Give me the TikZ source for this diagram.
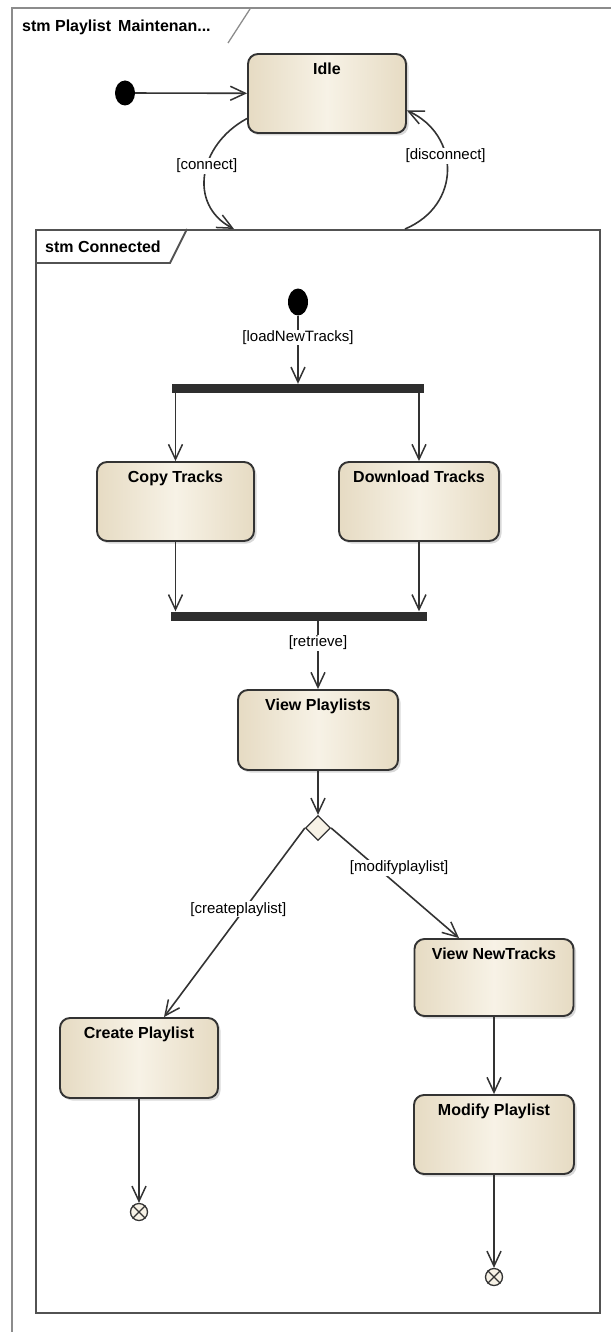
\documentclass[tikz,border=0pt]{standalone}
\usepackage{fontspec}
\setmainfont{Liberation Sans}
\usetikzlibrary{arrows.meta,shapes.geometric,shadows}
\definecolor{beigeL}{HTML}{F7F2E6}
\definecolor{beigeD}{HTML}{E6DBC3}
\definecolor{edgec}{HTML}{333333}
\definecolor{framegray}{HTML}{8C8C8C}
\definecolor{barc}{HTML}{2E2E2E}
\tikzset{
  stbox/.style={draw=edgec, line width=1.9pt, rounded corners=10pt,
    left color=beigeD, right color=beigeD, middle color=beigeL,
    minimum width=#1, minimum height=79pt, inner sep=0pt,
    drop shadow={shadow xshift=2.5pt, shadow yshift=-2.5pt, fill=black!30, opacity=.5}},
  stbox/.default=158pt,
  ttl/.style={anchor=north, yshift=-7pt, font=\fontsize{16}{18}\selectfont\bfseries, inner sep=3pt},
  lbl/.style={fill=white, inner sep=1pt, font=\fontsize{15}{17}\selectfont},
  arr/.style={draw=edgec, line width=1.6pt, -{Straight Barb[length=15pt,width=14pt,line width=1.5pt]}},
  initdot/.style={ellipse, fill=black, minimum width=20pt, minimum height=25pt, inner sep=0pt},
  barnode/.style={fill=barc, inner sep=0pt, minimum width=#1},
  finalnode/.style={circle, draw=edgec, line width=1.3pt, fill=beigeL, minimum size=17pt, inner sep=0pt},
  hdr/.style={font=\fontsize{16}{18}\selectfont\bfseries, anchor=west, inner sep=0pt}
}
\begin{document}
\begin{tikzpicture}[x=1pt,y=-1pt]
\useasboundingbox (0,0) rectangle (611,1332);
% outer frame
\draw[framegray, line width=1.8pt] (12,1332) -- (12,8) -- (611,8);
\node[hdr] (outerhdr) at (22,27) {stm Playlist\, Maintenan...};
\draw[framegray, line width=1.3pt] (250,9) -- (228,43);

% top level
\node[initdot] (init1) at (125,93) {};
\node[stbox, minimum width=158pt, label={[ttl]north:Idle}] (idle) at (327,93.5) {};
\draw[arr] (init1) -- (idle);

% connected frame
\node[draw=edgec!85, line width=2pt, minimum width=564pt, minimum height=1083pt, inner sep=0pt, anchor=north west] (conn) at (35,229) {};
\node[hdr] (connhdr) at (45,247) {stm Connected};
\draw[edgec!85, line width=1.8pt] (conn.north west |- 0,263) -- (170,263) -- (187,229);

% connect / disconnect
\draw[arr] ([yshift=-25pt]idle.west) .. controls (198,145) and (188,205) .. ([xshift=199pt]conn.north west)
  node[lbl, pos=.43] {[connect]};
\draw[arr] ([xshift=370pt]conn.north west) .. controls (462,205) and (460,135) .. ([yshift=-17pt]idle.east)
  node[lbl, pos=.6] {[disconnect]};

% inside connected
\node[initdot, minimum height=27pt] (init2) at (298,302) {};
\node[barnode=252pt, minimum height=9pt] (fork) at (298,388.5) {};
\draw[arr] (init2) -- (fork) node[lbl, pos=.32] {[loadNewTracks]};

\node[stbox=157pt, label={[ttl]north:Copy Tracks}] (copy) at (175.5,501.5) {};
\node[stbox=160pt, label={[ttl]north:Download Tracks}] (down) at (419,501.5) {};
\draw[arr] (fork.south -| copy) -- (copy);
\draw[arr] (fork.south -| down) -- (down);

\node[barnode=256pt, minimum height=9pt] (join) at (299,616) {};
\draw[arr] (copy) -- (join.north -| copy);
\draw[arr] (down) -- (join.north -| down);

\node[stbox=160pt, minimum height=80pt, label={[ttl]north:View Playlists}] (viewpl) at (318,730) {};
\draw[arr] (join.south -| viewpl) -- (viewpl) node[lbl, pos=.32] {[retrieve]};

\node[diamond, draw=edgec, line width=1.3pt, fill=beigeL, minimum width=25pt, minimum height=25pt, inner sep=0pt] (dec) at (318,828) {};
\draw[arr] (viewpl) -- (dec);

\node[stbox=158pt, minimum height=80pt, label={[ttl]north:Create Playlist}] (createpl) at (139,1058) {};
\node[stbox=159pt, minimum height=77pt, label={[ttl]north:View NewTracks}] (viewnt) at (494,977.5) {};
\node[stbox=160pt, label={[ttl]north:Modify Playlist}] (modpl) at (494,1134.5) {};

\draw[arr] (dec.west) -- ([xshift=25pt]createpl.north) node[lbl, pos=.43, xshift=-6pt] {[createplaylist]};
\draw[arr] (dec.east) -- ([xshift=-35pt]viewnt.north) node[lbl, pos=.36, xshift=22pt] {[modifyplaylist]};
\draw[arr] (viewnt) -- (modpl);

\node[finalnode] (fin1) at (139,1212) {};
\draw[edgec, line width=1.1pt] (fin1.north west) -- (fin1.south east) (fin1.north east) -- (fin1.south west);
\node[finalnode] (fin2) at (494,1277) {};
\draw[edgec, line width=1.1pt] (fin2.north west) -- (fin2.south east) (fin2.north east) -- (fin2.south west);
\draw[arr] (createpl) -- (fin1);
\draw[arr] (modpl) -- (fin2);
\end{tikzpicture}
\end{document}
